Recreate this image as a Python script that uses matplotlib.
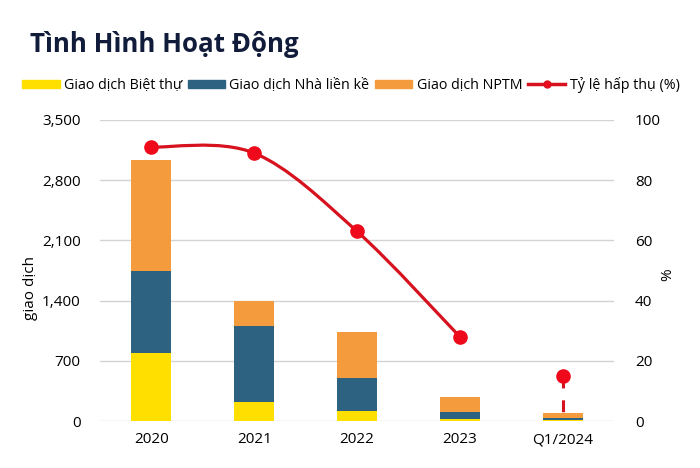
import matplotlib
matplotlib.use("Agg")
import matplotlib.pyplot as plt
from matplotlib.path import Path
from matplotlib.patches import PathPatch, Patch
from matplotlib.lines import Line2D
import numpy as np

plt.rcParams['font.family'] = ['Open Sans', 'DejaVu Sans']

# du lieu
categories = ['2020', '2021', '2022', '2023', 'Q1/2024']
biet_thu = [785, 222, 117, 20, 10]
lien_ke = [965, 886, 388, 85, 20]
nptm = [1290, 292, 525, 175, 67]
ty_le = [91, 89, 63, 28, 15]

c_yellow = '#FFDF00'
c_blue = '#2D6281'
c_orange = '#F39B3D'
c_red = '#D7121F'
c_dot = '#EE0A1A'

fig = plt.figure(figsize=(7, 4.68), dpi=100)
ax = fig.add_axes([0.1429, 0.1004, 0.7343, 0.6432])
ax2 = ax.twinx()

x = np.arange(len(categories))
w = 0.39
b1 = np.array(biet_thu)
b2 = np.array(lien_ke)
b3 = np.array(nptm)
ax.bar(x, b1, w, color=c_yellow, zorder=2)
ax.bar(x, b2, w, bottom=b1, color=c_blue, zorder=2)
ax.bar(x, b3, w, bottom=b1 + b2, color=c_orange, zorder=2)

ax.set_ylim(0, 3500)
ax.set_yticks(range(0, 3501, 700))
ax.set_yticklabels([f'{v:,}' for v in range(0, 3501, 700)])
ax.set_xlim(-0.5, len(categories) - 0.5)
ax.set_xticks(x)
ax.set_xticklabels(categories)
ax.grid(axis='y', color='#D3D3D3', lw=1, zorder=0)
ax.set_axisbelow(True)
ax.tick_params(length=0, labelsize=11, pad=14)
ax.tick_params(axis='x', pad=8)
for s in ax.spines.values():
    s.set_visible(False)

# duong ty le hap thu (smooth kieu Excel)
pts = list(zip(x[:4], ty_le[:4]))
verts = [pts[0]]
codes = [Path.MOVETO]
n = len(pts)
for i in range(n - 1):
    p0 = np.array(pts[max(i - 1, 0)], float)
    p1 = np.array(pts[i], float)
    p2 = np.array(pts[i + 1], float)
    p3 = np.array(pts[min(i + 2, n - 1)], float)
    verts += [tuple(p1 + (p2 - p0) / 6), tuple(p2 - (p3 - p1) / 6), tuple(p2)]
    codes += [Path.CURVE4] * 3
ax2.add_patch(PathPatch(Path(verts, codes), fill=False, edgecolor=c_red, lw=2.3, zorder=3))
ax2.plot(x[:4], ty_le[:4], 'o', color=c_dot, ms=9.5, zorder=4)

# Q1/2024 diem rieng + duong dut
top_pct = (b1[4] + b2[4] + b3[4]) / 3500 * 100
ax2.plot([x[4], x[4]], [ty_le[4], top_pct], color=c_red, lw=2.2,
         linestyle=(0, (3.9, 3.9)), zorder=3)
ax2.plot([x[4]], [ty_le[4]], 'o', color=c_dot, ms=9.5, zorder=4)

ax2.set_ylim(0, 100)
ax2.set_yticks(range(0, 101, 20))
ax2.tick_params(length=0, labelsize=11, pad=15)
for s in ax2.spines.values():
    s.set_visible(False)

fig.text(30 / 700, 1 - 288 / 468, 'giao dịch', fontsize=11, rotation=90,
         ha='center', va='center')
fig.text(668 / 700, 1 - 275 / 468, '%', fontsize=11, rotation=90,
         ha='center', va='center')

fig.text(0.043, 1 - 45 / 468, 'Tình Hình Hoạt Động', fontsize=18.6, fontweight='bold',
         color='#111B3A', va='center', ha='left')

handles = [Patch(color=c_yellow), Patch(color=c_blue), Patch(color=c_orange),
           Line2D([], [], color=c_red, lw=2.5, marker='o', ms=5, markerfacecolor=c_dot)]
labels = ['Giao dịch Biệt thự', 'Giao dịch Nhà liền kề', 'Giao dịch NPTM', 'Tỷ lệ hấp thụ (%)']
fig.legend(handles, labels, loc='center left', bbox_to_anchor=(0.032, 1 - 85 / 468),
           ncol=4, frameon=False, fontsize=10.3, handlelength=2.6, handleheight=0.55,
           handletextpad=0.3, columnspacing=0.4, borderaxespad=0, borderpad=0)

fig.savefig('out.png', dpi=100)
